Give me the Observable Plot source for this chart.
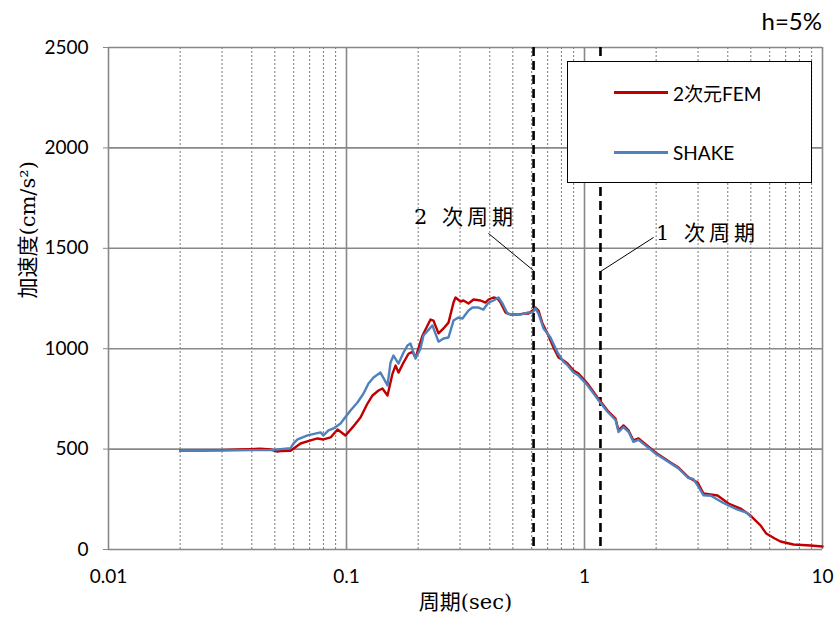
<!DOCTYPE html>
<html><head><meta charset="utf-8">
<script src="https://cdn.jsdelivr.net/npm/d3@7"></script>
<script src="https://cdn.jsdelivr.net/npm/@observablehq/plot@0.6"></script>
<style>
body{margin:0;background:#fff;}
#wrap{position:relative;width:836px;height:628px;font-family:Lato,"Noto Sans CJK JP",sans-serif;color:#000;}
#wrap svg{position:absolute;left:0;top:0;}
.legend{position:absolute;left:567px;top:61px;width:243px;height:120px;border:1.5px solid #000;background:#fff;}
.legend .item{position:absolute;left:46px;display:flex;align-items:center;font-size:19px;}
.legend .sw{width:54px;height:2.5px;margin-right:5px;}
.hnote{position:absolute;right:14px;top:6px;font-size:24px;}
</style></head><body><div id="wrap"></div>
<script>
const femPeriod = [0.020,0.0244,0.0296,0.0359,0.0395,0.0435,0.0479,0.0513,0.0528,0.0582,0.0641,0.0706,0.0755,0.0800,0.0857,0.0917,0.0990,0.106,0.1145,0.1225,0.1286,0.1363,0.1416,0.1487,0.1561,0.1607,0.1654,0.1736,0.1822,0.1894,0.1950,0.2087,0.2254,0.2320,0.2435,0.2556,0.2683,0.2816,0.2871,0.3013,0.3102,0.3256,0.3417,0.3656,0.3837,0.3950,0.4146,0.4310,0.4437,0.4656,0.4888,0.5231,0.5544,0.5817,0.6047,0.6225,0.6408,0.6661,0.6991,0.7409,0.7776,0.8163,0.8484,0.8992,0.9436,1.029,1.134,1.249,1.350,1.390,1.458,1.531,1.606,1.686,1.988,2.298,2.483,2.735,2.985,3.162,3.622,4.027,4.524,4.984,5.489,5.80,6.30,6.66,7.55,8.90,10.0];
const femAccel = [493,493,495,498,500,502,498,488,490,492,528,543,553,548,558,598,568,608,657,727,767,792,802,767,876,916,881,931,975,985,955,1066,1145,1140,1076,1101,1130,1230,1255,1235,1240,1225,1245,1240,1230,1245,1255,1250,1230,1180,1170,1170,1175,1175,1190,1205,1190,1125,1076,1006,956,941,926,891,876,827,757,692,652,593,618,593,543,553,483,433,408,359,334,279,269,229,204,169,120,80,55,40,25,20,15];
const shakePeriod = [0.020,0.030,0.040,0.048,0.0528,0.0582,0.0599,0.0623,0.0686,0.0778,0.0800,0.0840,0.0882,0.0944,0.1039,0.1112,0.1179,0.1237,0.1299,0.1389,0.1487,0.1531,0.1576,0.1654,0.1736,0.1804,0.1857,0.1950,0.2047,0.2106,0.2298,0.2320,0.2435,0.2556,0.2683,0.2816,0.2955,0.3072,0.3256,0.3384,0.3586,0.3763,0.3950,0.4146,0.4352,0.4523,0.4748,0.5032,0.5385,0.5763,0.6047,0.6225,0.6408,0.6726,0.7197,0.7701,0.8163,0.8484,0.8992,0.9436,1.029,1.134,1.249,1.350,1.390,1.458,1.531,1.606,1.686,1.988,2.298,2.483,2.735,2.860,2.985,3.162,3.40,3.80,4.027,4.40,4.80,4.984];
const shakeAccel = [493,493,495,495,500,505,528,548,568,583,568,593,603,627,692,732,777,827,857,881,817,931,966,926,981,1016,1026,951,1001,1066,1116,1101,1035,1051,1056,1140,1155,1150,1190,1205,1205,1195,1230,1240,1255,1225,1175,1170,1170,1180,1180,1200,1175,1101,1056,981,935,918,882,866,818,750,686,645,585,610,586,536,546,478,430,404,356,352,320,270,268,234,219,199,184,164];
const seriesNames = ["2次元FEM","SHAKE"];
const seriesColors = ["#C00000","#4F81BD"];
const yTicks = [0,500,1000,1500,2000,2500];
const xTicks = [0.01,0.1,1,10];
const xTickLabels = ["0.01","0.1","1","10"];
const minorPeriods = [0.02,0.03,0.04,0.05,0.06,0.07,0.08,0.09,0.2,0.3,0.4,0.5,0.6,0.7,0.8,0.9,2,3,4,5,6,7,8,9];
const modePeriods = [0.611,1.167];
const annoLabels = ["2 次周期","1 次周期"];
const annoTextX = [0.316,3.29];
const annoTextY = [1655,1575];
const annoFromX = [0.395,1.950];
const annoFromY = [1574,1554];
const annoToX = [0.611,1.167];
const annoToY = [1389,1384];
const xLabel = "周期(sec)";
const yLabel = "加速度(cm/s²)";
const dampingNote = "h=5%";

const fem = femPeriod.map((p,i)=>({p, a: femAccel[i]}));
const shake = shakePeriod.map((p,i)=>({p, a: shakeAccel[i]}));
const annos = annoLabels.map((t,i)=>({t, x:annoTextX[i], y:annoTextY[i], x1:annoFromX[i], y1:annoFromY[i], x2:annoToX[i], y2:annoToY[i]}));
const serifFont = '"DejaVu Serif", "Noto Sans CJK JP", serif';

const chart = Plot.plot({
  width: 836, height: 628,
  marginLeft: 108, marginRight: 14, marginTop: 47, marginBottom: 79,
  style: {fontFamily: 'Lato, "Noto Sans CJK JP", sans-serif', fontSize: "19px", background: "#fff", color: "#000", overflow: "visible"},
  x: {type: "log", domain: [0.01, 10]},
  y: {domain: [0, 2500]},
  marks: [
    Plot.ruleX(minorPeriods, {stroke: "#555", strokeWidth: 0.8, strokeDasharray: "2,2"}),
    Plot.ruleX(xTicks, {stroke: "#888", strokeWidth: 1.6}),
    Plot.ruleY(yTicks, {stroke: "#888", strokeWidth: 1.6}),
    Plot.ruleX(modePeriods, {stroke: "#000", strokeWidth: 2.6, strokeDasharray: "9,5"}),
    Plot.line(fem, {x: "p", y: "a", stroke: seriesColors[0], strokeWidth: 2.4}),
    Plot.line(shake, {x: "p", y: "a", stroke: seriesColors[1], strokeWidth: 2.4}),
    Plot.link(annos, {x1: "x1", y1: "y1", x2: "x2", y2: "y2", stroke: "#000", strokeWidth: 1}),
    Plot.text(annos, {x: "x", y: "y", text: "t", fontSize: 21, fontFamily: serifFont, className: "anno", fill: "#000"}),
    Plot.axisY(yTicks, {tickSize: 5, tickPadding: 15, stroke: "#888", fill: "#000", label: null, tickFormat: d => String(d)}),
    Plot.axisX(xTicks, {tickSize: 0, tickPadding: 20, fill: "#000", tickFormat: d => xTickLabels[xTicks.indexOf(d)], label: null}),
    Plot.text([yLabel], {frameAnchor: "left", dx: -80, rotate: -90, fontSize: 21, fontFamily: serifFont, fill: "#000"}),
    Plot.text([xLabel], {frameAnchor: "bottom", dy: 59, fontSize: 21, fontFamily: serifFont, fill: "#000"})
  ]
});
d3.select(chart).selectAll("g.anno text").style("letter-spacing", "4px");
const wrap = document.getElementById("wrap");
wrap.appendChild(chart);

const note = document.createElement("div");
note.className = "hnote"; note.textContent = dampingNote;
wrap.appendChild(note);

const legend = document.createElement("div");
legend.className = "legend";
seriesNames.forEach((n,i)=>{
  const it = document.createElement("div");
  it.className = "item";
  it.style.top = (i === 0 ? 17 : 79) + "px";
  const sw = document.createElement("span");
  sw.className = "sw"; sw.style.background = seriesColors[i];
  const tx = document.createElement("span");
  tx.textContent = n;
  it.appendChild(sw); it.appendChild(tx);
  legend.appendChild(it);
});
wrap.appendChild(legend);
</script>
</body></html>
